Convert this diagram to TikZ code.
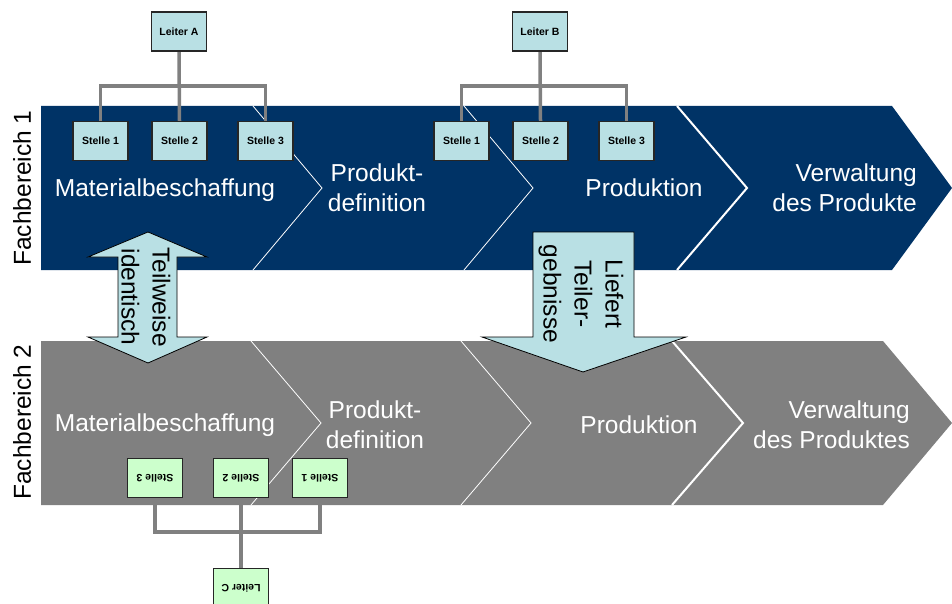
\documentclass[tikz,border=0pt]{standalone}
\usepackage{fontspec}
\setmainfont{Liberation Sans}
\usepackage{graphicx}
\definecolor{navy}{RGB}{0,51,102}
\definecolor{bandgray}{RGB}{128,128,128}
\definecolor{boxblue}{RGB}{185,224,228}
\definecolor{boxgreen}{RGB}{204,255,204}
\definecolor{linegray}{RGB}{128,128,128}
\pgfdeclarelayer{bandlayer}
\pgfdeclarelayer{connlayer}
\pgfsetlayers{bandlayer,connlayer,main}
\begin{document}
\begin{tikzpicture}[x=1pt,y=-1pt,
 big/.style={text=white,font=\fontsize{24.5}{30}\selectfont,inner sep=0pt,align=center},
 side/.style={text=black,font=\fontsize{24.5}{30}\selectfont,inner sep=0pt,rotate=90},
 bluebox/.style={draw=black!85,line width=1.2pt,fill=boxblue,minimum width=55pt,minimum height=39pt,inner sep=0pt,font=\bfseries\fontsize{10.5}{12}\selectfont},
 greenbox/.style={bluebox,fill=boxgreen},
 conn/.style={draw=linegray,line width=3.5pt},
 thinsep/.style={draw=white,line width=0.8pt},
 thicksep/.style={draw=white,line width=2pt},
 fatarrow/.style={fill=boxblue,draw=black,line width=0.8pt},
 atext/.style={font=\fontsize{24.5}{31}\selectfont,align=center,inner sep=0pt,rotate=-90}
]
\useasboundingbox (0,0) rectangle (952,604);

\begin{pgfonlayer}{bandlayer}
% Band 1
\fill[navy] (41,106) -- (892,106) -- (952,188) -- (892,270) -- (41,270) -- cycle;
\draw[thinsep] (253,106) -- (322,188) -- (253,270);
\draw[thinsep] (464,106) -- (533,188) -- (464,270);
\draw[thicksep] (677,106) -- (747,188) -- (677,270);

% Band 2
\fill[bandgray] (41,341) -- (883,341) -- (952,423) -- (883,505) -- (41,505) -- cycle;
\draw[thinsep] (251,341) -- (321,423) -- (251,505);
\draw[thinsep] (461,341) -- (531,423) -- (461,505);
\draw[thicksep] (672,341) -- (743,423) -- (672,505);

% band texts
\node[big] (m1) at (165,190) {Materialbeschaffung};
\node[big] (p1) at (377,188) {Produkt-\\definition};
\node[big] (r1) at (644,188) {Produktion};
\node[big,align=right,anchor=east] (v1) at (917,188) {Verwaltung\\des Produkte};

\node[big] (m2) at (165,425) {Materialbeschaffung};
\node[big] (p2) at (375,425) {Produkt-\\definition};
\node[big] (r2) at (639,425) {Produktion};
\node[big,align=right,anchor=east] (v2) at (910,425) {Verwaltung\\des Produktes};

\node[side] (f1) at (22,188) {Fachbereich 1};
\node[side] (f2) at (22,422) {Fachbereich 2};

% fat arrows
\draw[fatarrow] (148,232) -- (207,257) -- (177,257) -- (177,337) -- (207,337) -- (148,363)
  -- (88,337) -- (118,337) -- (118,257) -- (88,257) -- cycle;
\node[atext] (t1) at (146,297) {Teilweise\\identisch};

\draw[fatarrow] (533,232) -- (634,232) -- (634,337) -- (686,337) -- (583,372) -- (482,337)
  -- (533,337) -- cycle;
\node[atext] (t2) at (581,294) {Liefert\\Teiler-\\gebnisse};
\end{pgfonlayer}

% org charts
\coordinate (hA) at (179,86);
\coordinate (hB) at (540,86);
\coordinate (hC) at (241,532);

\node[bluebox] (LA) at (179,31.5) {Leiter A};
\node[bluebox] (A1) at (100.5,141) {Stelle 1};
\node[bluebox] (A2) at (179.5,141) {Stelle 2};
\node[bluebox] (A3) at (265.5,141) {Stelle 3};

\node[bluebox] (LB) at (540,31.5) {Leiter B};
\node[bluebox] (B1) at (461.5,141) {Stelle 1};
\node[bluebox] (B2) at (540.5,141) {Stelle 2};
\node[bluebox] (B3) at (626.5,141) {Stelle 3};

\node[greenbox] (LC) at (241,588) {\rotatebox{180}{Leiter C}};
\node[greenbox] (C3) at (155,478) {\rotatebox{180}{Stelle 3}};
\node[greenbox] (C2) at (241,478) {\rotatebox{180}{Stelle 2}};
\node[greenbox] (C1) at (320,478) {\rotatebox{180}{Stelle 1}};

\begin{pgfonlayer}{connlayer}
\draw[conn] (A1.north) |- (hA) -| (A3.north);
\draw[conn] (LA.south) -- (A2.north);
\draw[conn] (B1.north) |- (hB) -| (B3.north);
\draw[conn] (LB.south) -- (B2.north);
\draw[conn] (C3.south) |- (hC) -| (C1.south);
\draw[conn] (C2.south) -- (LC.north);
\end{pgfonlayer}
\end{tikzpicture}
\end{document}
